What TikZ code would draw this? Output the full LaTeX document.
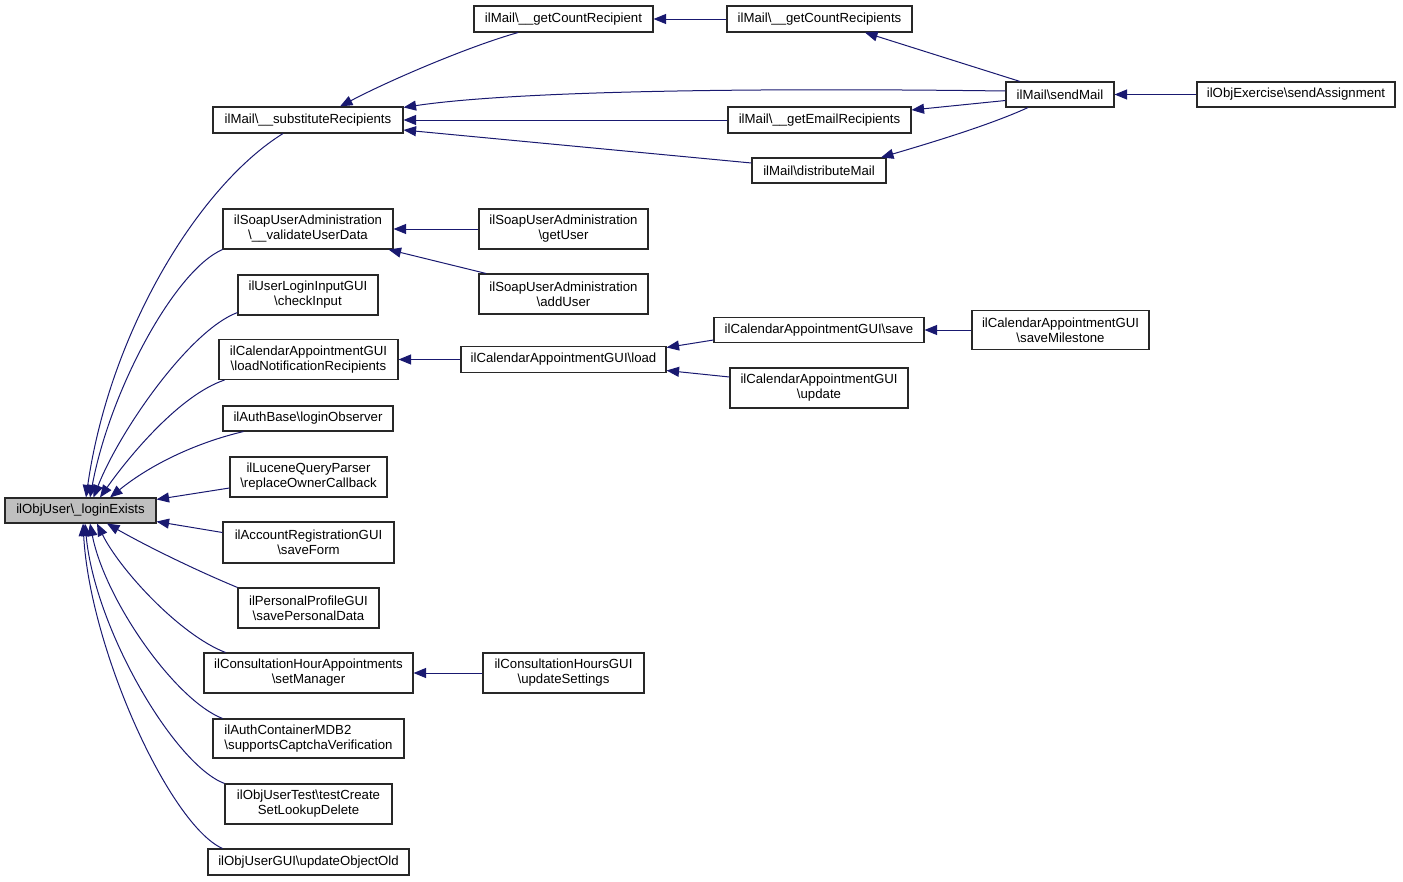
\documentclass[tikz,border=0pt]{standalone}
\usepackage{fontspec}
\setmainfont{Liberation Sans}
\usetikzlibrary{arrows.meta,calc}
\definecolor{edgec}{RGB}{25,25,112}
\definecolor{mainfill}{RGB}{191,191,191}
\definecolor{boxline}{RGB}{40,40,40}
\newcommand{\bs}{\textbackslash}
\tikzset{
  box/.style={draw=boxline, line width=1.1pt, fill=white, inner sep=0pt, align=center,
    font=\fontsize{13.2}{15}\selectfont},
  arr/.style={draw=edgec, line width=1pt, -{Triangle[length=12.5pt,width=10pt]}},
}
\begin{document}
\begin{tikzpicture}[x=1pt,y=1pt]
\useasboundingbox (0,0) rectangle (1403,-881);
% nodes
\node[box, fill=mainfill, minimum width=151pt, minimum height=25pt] (main) at (80.5,-510.5) {ilObjUser\bs\_loginExists};
\node[box, minimum width=190pt, minimum height=26pt] (subst) at (308,-120) {ilMail\bs\_\_substituteRecipients};
\node[box, minimum width=179pt, minimum height=26pt] (gcr) at (563.5,-19) {ilMail\bs\_\_getCountRecipient};
\node[box, minimum width=185pt, minimum height=26pt] (gcrs) at (819.5,-19) {ilMail\bs\_\_getCountRecipients};
\node[box, minimum width=108pt, minimum height=25pt] (send) at (1060,-94.5) {ilMail\bs sendMail};
\node[box, minimum width=198pt, minimum height=25pt] (assign) at (1296,-94.5) {ilObjExercise\bs sendAssignment};
\node[box, minimum width=183pt, minimum height=26pt] (gem) at (819.5,-120) {ilMail\bs\_\_getEmailRecipients};
\node[box, minimum width=134pt, minimum height=25pt] (dist) at (819,-170.5) {ilMail\bs distributeMail};
\node[box, minimum width=170pt, minimum height=40pt] (validate) at (308,-229) {ilSoapUserAdministration\\\bs\_\_validateUserData};
\node[box, minimum width=169pt, minimum height=40pt] (getuser) at (563.5,-229) {ilSoapUserAdministration\\\bs getUser};
\node[box, minimum width=169pt, minimum height=40pt] (adduser) at (563.5,-294) {ilSoapUserAdministration\\\bs addUser};
\node[box, minimum width=140pt, minimum height=40pt] (check) at (308,-295) {ilUserLoginInputGUI\\\bs checkInput};
\node[box, minimum width=179pt, minimum height=40pt] (lnr) at (308.5,-359.5) {ilCalendarAppointmentGUI\\\bs loadNotificationRecipients};
\node[box, minimum width=205pt, minimum height=26pt] (load) at (563.5,-359.5) {ilCalendarAppointmentGUI\bs load};
\node[box, minimum width=210pt, minimum height=25pt] (save) at (819,-330) {ilCalendarAppointmentGUI\bs save};
\node[box, minimum width=177pt, minimum height=39pt] (milestone) at (1060.5,-330) {ilCalendarAppointmentGUI\\\bs saveMilestone};
\node[box, minimum width=178pt, minimum height=40pt] (update) at (819,-388) {ilCalendarAppointmentGUI\\\bs update};
\node[box, minimum width=170pt, minimum height=25pt] (observer) at (308,-418.5) {ilAuthBase\bs loginObserver};
\node[box, minimum width=157pt, minimum height=40pt] (lucene) at (308.5,-477) {ilLuceneQueryParser\\\bs replaceOwnerCallback};
\node[box, minimum width=171pt, minimum height=41pt] (saveform) at (308.5,-542.5) {ilAccountRegistrationGUI\\\bs saveForm};
\node[box, minimum width=141pt, minimum height=40pt] (personal) at (308.5,-608) {ilPersonalProfileGUI\\\bs savePersonalData};
\node[box, minimum width=209pt, minimum height=40pt] (setmanager) at (308.5,-673) {ilConsultationHourAppointments\\\bs setManager};
\node[box, minimum width=161pt, minimum height=40pt] (updsettings) at (563.5,-673) {ilConsultationHoursGUI\\\bs updateSettings};
\node[box, minimum width=191pt, minimum height=39pt, align=left] (captcha) at (308.5,-738.5) {ilAuthContainerMDB2\\\bs supportsCaptchaVerification};
\node[box, minimum width=167pt, minimum height=40pt] (testcreate) at (308.5,-804) {ilObjUserTest\bs testCreate\\SetLookupDelete};
\node[box, minimum width=201pt, minimum height=26pt] (oldobj) at (308.5,-862) {ilObjUserGUI\bs updateObjectOld};
% edges into main
\draw[arr] ([xshift=-25pt]subst.south) .. controls (200,-185) and (110,-330) .. ([xshift=5.5pt]main.north);
\draw[arr] (validate.south west) .. controls (175,-270) and (110,-390) .. ([xshift=9.5pt]main.north);
\draw[arr] ([yshift=3pt]check.south west) .. controls (190,-330) and (120,-430) .. ([xshift=13pt]main.north);
\draw[arr] ([xshift=6pt]lnr.south west) .. controls (180,-395) and (130,-455) .. ([xshift=19.5pt]main.north);
\draw[arr] ([xshift=21pt]observer.south west) .. controls (195,-443) and (150,-465) .. ([xshift=29.5pt]main.north);
\draw[arr] ([yshift=-11pt]lucene.west) -- ([yshift=-2pt]main.north east);
\draw[arr] ([yshift=10pt]saveform.west) -- ([yshift=2pt]main.south east);
\draw[arr] (personal.north west) .. controls (200,-572) and (150,-548) .. ([xshift=26.5pt]main.south);
\draw[arr] ([xshift=22pt]setmanager.north west) .. controls (180,-635) and (120,-570) .. ([xshift=16.5pt]main.south);
\draw[arr] ([xshift=10pt]captcha.north west) .. controls (175,-700) and (105,-600) .. ([xshift=9.5pt]main.south);
\draw[arr] (testcreate.north west) .. controls (175,-765) and (95,-630) .. ([xshift=4.5pt]main.south);
\draw[arr] ([xshift=15pt]oldobj.north west) .. controls (170,-825) and (90,-650) .. ([xshift=2.5pt]main.south);
% mail edges
\draw[arr] (gcrs.west) -- (gcr.east);
\draw[arr] ([xshift=-45.5pt]gcr.south) .. controls (470,-46) and (390,-80) .. ([xshift=32pt]subst.north);
\draw[arr] ([yshift=3.5pt]send.west) .. controls (700,-87) and (500,-93) .. ([yshift=-1pt]subst.north east);
\draw[arr] (gem.west) -- (subst.east);
\draw[arr] ([yshift=7.5pt]dist.west) -- ([yshift=-10pt]subst.east);
\draw[arr] ([yshift=-6pt]send.west) -- ([yshift=10pt]gem.east);
\draw[arr] ([xshift=-40pt]send.north) -- ([xshift=45.5pt]gcrs.south);
\draw[arr] ([xshift=-32pt]send.south) .. controls (990,-125) and (930,-143) .. ([xshift=62pt]dist.north);
\draw[arr] (assign.west) -- (send.east);
% soap
\draw[arr] (getuser.west) -- (validate.east);
\draw[arr] ([xshift=-77.5pt]adduser.north) -- ([xshift=-5pt]validate.south east);
% calendar
\draw[arr] (load.west) -- (lnr.east);
\draw[arr] ([yshift=-10pt]save.west) -- ([yshift=12pt]load.east);
\draw[arr] ([yshift=11pt]update.west) -- ([yshift=-11pt]load.east);
\draw[arr] (milestone.west) -- (save.east);
% consultation
\draw[arr] (updsettings.west) -- (setmanager.east);
\end{tikzpicture}
\end{document}
